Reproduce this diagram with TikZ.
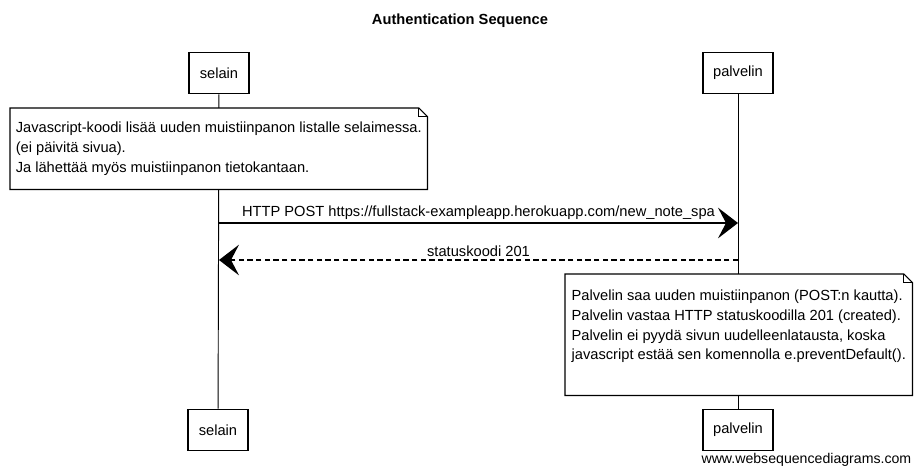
\documentclass[tikz,border=0pt]{standalone}
\usepackage{fontspec}
\setmainfont{Liberation Sans}
\usetikzlibrary{arrows.meta}

\newcommand{\notecorner}[1]{%
	\draw [line width=0.9pt] (#1.north west) -- ([xshift=-6.5pt]#1.north east) -- ([yshift=-6.5pt]#1.north east) -- (#1.south east) -- (#1.south west) -- cycle;
	\draw [line width=0.6pt] ([xshift=-6.5pt]#1.north east) |- ([yshift=-6.5pt]#1.north east);}

\begin{document}
\begin{tikzpicture}[x=0.75pt, y=-0.75pt,
	every node/.style={font=\fontsize{11}{14.8}\selectfont},
	actor/.style={draw, line width=1pt, fill=white, inner xsep=2pt, minimum height=31pt},
	lifeline/.style={line width=0.7pt},
	note/.style={fill=white, align=left, anchor=north west, inner sep=0pt},
	msg/.style={line width=1pt, -{Stealth[length=15pt, width=23pt, inset=6pt]}},
	reply/.style={msg, dash pattern=on 4pt off 2.5pt}]
	\useasboundingbox (0,0) rectangle (921,475);
	\node [font=\bfseries\fontsize{11}{12}\selectfont] (title) at (460,21) {Authentication Sequence};
	% actors
	\node [actor, minimum width=45pt] (selainTop) at (219,73) {selain};
	\node [actor, minimum width=52.5pt] (palvelinTop) at (738,73) {palvelin};
	\node [actor, minimum width=45pt] (selainBot) at (218,430) {selain};
	\node [actor, minimum width=52.5pt] (palvelinBot) at (738,430) {palvelin};
	\draw [lifeline] (selainTop) -- (selainBot);
	\draw [lifeline] (palvelinTop) -- (palvelinBot);
	% notes
	\node [note, minimum width=312.75pt, minimum height=60.75pt] (noteA) at (10,108)
		{Javascript-koodi lisää uuden muistiinpanon listalle selaimessa.\\(ei päivitä sivua).\\Ja lähettää myös muistiinpanon tietokantaan.};
	\notecorner{noteA}
	\coordinate (postFrom) at (selainTop |- 0,223);
	\coordinate (postTo) at (palvelinTop |- 0,223);
	\draw [msg] (postFrom) -- (postTo) node [midway, above, inner sep=2pt] {HTTP POST https://fullstack-exampleapp.herokuapp.com/new\_note\_spa};
	\coordinate (replyFrom) at (palvelinTop |- 0,260);
	\coordinate (replyTo) at (selainTop |- 0,260);
	\draw [reply] (replyFrom) -- (replyTo) node [midway, above, inner sep=2pt] {statuskoodi 201};
	\node [note, minimum width=260.25pt, minimum height=90.75pt] (noteB) at (565,274)
		{Palvelin saa uuden muistiinpanon (POST:n kautta).\\Palvelin vastaa HTTP statuskoodilla 201 (created).\\Palvelin ei pyydä sivun uudelleenlatausta, koska\\javascript estää sen komennolla e.preventDefault().\\~};
	\notecorner{noteB}
	\node [anchor=east, font=\fontsize{10.6}{12}\selectfont] (credit) at (916,460) {www.websequencediagrams.com};
\end{tikzpicture}
\end{document}
